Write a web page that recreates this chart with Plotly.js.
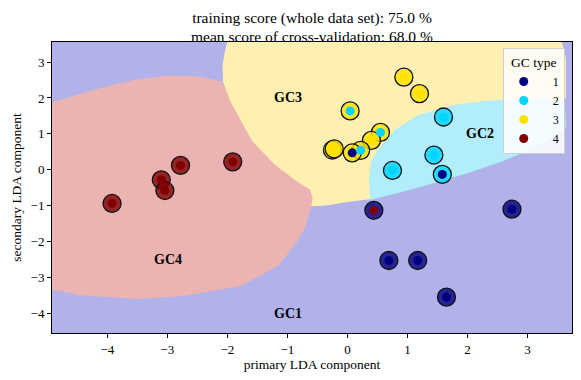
<!DOCTYPE html>
<html>
<head>
<meta charset="utf-8">
<script src="https://cdn.plot.ly/plotly-3.0.1.min.js"></script>
<style>
  html, body { margin: 0; padding: 0; background: #fff; }
  #chart { width: 581px; height: 380px; }
</style>
</head>
<body>
<div id="chart"></div>
<script>
// points: LDA coordinates, true GC type (inner dot) and predicted type (outer circle)
const ptX = [0.94, 1.2, 0.045, 0.55, 0.4, 0.22, 0.08, -0.25, -0.22,
             1.6, 1.44, 0.75, 1.58,
             0.44, 2.74, 0.69, 1.17, 1.65,
             -3.92, -3.1, -3.04, -2.78, -1.91];
const ptY = [2.58, 2.12, 1.64, 1.04, 0.82, 0.54, 0.47, 0.55, 0.58,
             1.47, 0.41, -0.02, -0.13,
             -1.13, -1.1, -2.53, -2.53, -3.55,
             -0.94, -0.28, -0.58, 0.12, 0.22];
const trueType = [3, 3, 2, 2, 3, 2, 1, 3, 3,
                  2, 2, 2, 1,
                  4, 1, 1, 1, 1,
                  4, 4, 4, 4, 4];
const predType = [3, 3, 3, 3, 3, 3, 3, 3, 3,
                  2, 2, 2, 2,
                  1, 1, 1, 1, 1,
                  4, 4, 4, 4, 4];

const typeNames = ['1', '2', '3', '4'];
const regionNames = ['GC1', 'GC2', 'GC3', 'GC4'];
const regionLabelX = [-0.99, 2.21, -0.99, -2.99];
const regionLabelY = [-4.02, 1.0, 2.01, -2.51];

const titleLines = ['training score (whole data set): 75.0 %', 'mean score of cross-validation: 68.0 %'];

// decision-region outlines (GC1 is the background)
const gc3X = [-1.98, 3.55, 3.64, 3.64, 0.37, 0.0, -0.35, -0.58, -1.0, -2.3, -2.3, -2.07, -2.08, -2.04, -1.98];
const gc3Y = [3.7, 3.7, 3.1, 2.0, -0.82, -0.9, -1.0, -1.02, -1.0, 1.0, 2.45, 2.45, 2.9, 3.3, 3.7];
const gc4X = [-5.1, -4.45, -4.0, -3.5, -3.0, -2.5, -2.07, -2.04, -1.95, -1.8, -1.58, -1.21, -0.84, -0.62,
              -0.58, -0.6, -0.63, -0.7, -0.84, -1.15, -1.76, -2.69, -3.5, -4.45, -5.1];
const gc4Y = [1.78, 2.12, 2.33, 2.52, 2.62, 2.6, 2.45, 2.3, 1.9, 1.45, 0.79, 0.14, -0.33, -0.56,
              -0.8, -1.0, -1.2, -1.6, -2.01, -2.67, -3.23, -3.51, -3.6, -3.5, -3.28];
const gc2X = [0.38, 0.36, 0.39, 0.5, 0.77, 1.16, 1.72, 2.3, 2.9, 3.4, 3.62, 3.64,
              3.49, 3.1, 2.57, 2.0, 1.55, 1.0, 0.38];
const gc2Y = [-0.84, -0.3, 0.2, 0.54, 1.09, 1.51, 1.79, 1.92, 1.97, 1.97, 1.85, 1.2,
              0.98, 0.6, 0.23, -0.1, -0.32, -0.58, -0.84];

const dotColors = ['#00007f', '#00d4ff', '#ffe100', '#800000'];
const ringColors = ['rgba(0,0,127,0.8)', 'rgba(0,212,255,0.8)', 'rgba(255,225,0,0.8)', 'rgba(128,0,0,0.8)'];
const regionFill = { gc2: '#b1edfb', gc3: '#fdf0b1', gc4: '#ecb3b3' };
const bgBlue = '#b2b2eb';

const serif = '"Liberation Serif", "DejaVu Serif", serif';

function region(xs, ys, color) {
  return {
    x: xs, y: ys, type: 'scatter', mode: 'lines', fill: 'toself',
    fillcolor: color, line: { width: 0, color: color },
    hoverinfo: 'skip', showlegend: false
  };
}

const traces = [
  region(gc3X, gc3Y, regionFill.gc3),
  region(gc4X, gc4Y, regionFill.gc4),
  region(gc2X, gc2Y, regionFill.gc2)
];

// outer circles: predicted type
typeNames.forEach((name, k) => {
  const idx = predType.map((t, i) => t === k + 1 ? i : -1).filter(i => i >= 0);
  traces.push({
    x: idx.map(i => ptX[i]), y: idx.map(i => ptY[i]),
    type: 'scatter', mode: 'markers', showlegend: false,
    marker: { size: 18, color: ringColors[k], line: { color: '#111', width: 1.3 } }
  });
});

// inner dots: true type (these carry the legend)
typeNames.forEach((name, k) => {
  const idx = trueType.map((t, i) => t === k + 1 ? i : -1).filter(i => i >= 0);
  traces.push({
    x: idx.map(i => ptX[i]), y: idx.map(i => ptY[i]),
    type: 'scatter', mode: 'markers', name: '\u00a0\u00a0\u00a0' + name,
    marker: { size: 9, color: dotColors[k] }
  });
});

const axisCommon = {
  showgrid: false, zeroline: false,
  showline: true, mirror: true, linecolor: '#000', linewidth: 1,
  ticks: 'outside', ticklen: 4, tickwidth: 1, tickcolor: '#000',
  tickfont: { family: serif, size: 13, color: '#000' },
  dtick: 1
};

const annotations = regionNames.map((t, k) => ({
  x: regionLabelX[k], y: regionLabelY[k], xref: 'x', yref: 'y',
  text: '<b>' + t + '</b>', showarrow: false,
  font: { family: serif, size: 14, color: '#000' }
}));
annotations.push({
  text: titleLines[1], xref: 'paper', x: 0.5, yref: 'paper', y: 1.02,
  xanchor: 'center', yanchor: 'middle', showarrow: false,
  font: { family: serif, size: 15.5, color: '#000' }
});

const layout = {
  width: 581, height: 380,
  margin: { l: 52, r: 9, t: 42, b: 47 },
  paper_bgcolor: '#fff',
  plot_bgcolor: bgBlue,
  font: { family: serif, color: '#000' },
  title: {
    text: titleLines[0],
    font: { family: serif, size: 15.5, color: '#000' },
    xref: 'paper', x: 0.5, xanchor: 'center',
    yref: 'container', y: 1 - 18 / 380, yanchor: 'middle'
  },
  xaxis: Object.assign({}, axisCommon, {
    range: [-4.92, 3.74],
    title: { text: 'primary LDA component', font: { family: serif, size: 13.5 }, standoff: 3 }
  }),
  yaxis: Object.assign({}, axisCommon, {
    range: [-4.55, 3.56],
    title: { text: 'secondary LDA component', font: { family: serif, size: 13.5 }, standoff: 5 }
  }),
  legend: {
    title: { text: 'GC type', side: 'top center', font: { family: serif, size: 13.5 } },
    x: 0.986, xanchor: 'right', y: 0.978, yanchor: 'top',
    bgcolor: 'rgba(255,255,255,0.85)', bordercolor: '#d0d0d0', borderwidth: 1,
    font: { family: serif, size: 12 },
    itemwidth: 30
  },
  annotations: annotations
};

Plotly.newPlot('chart', traces, layout, { displayModeBar: false, staticPlot: true });
</script>
</body>
</html>
